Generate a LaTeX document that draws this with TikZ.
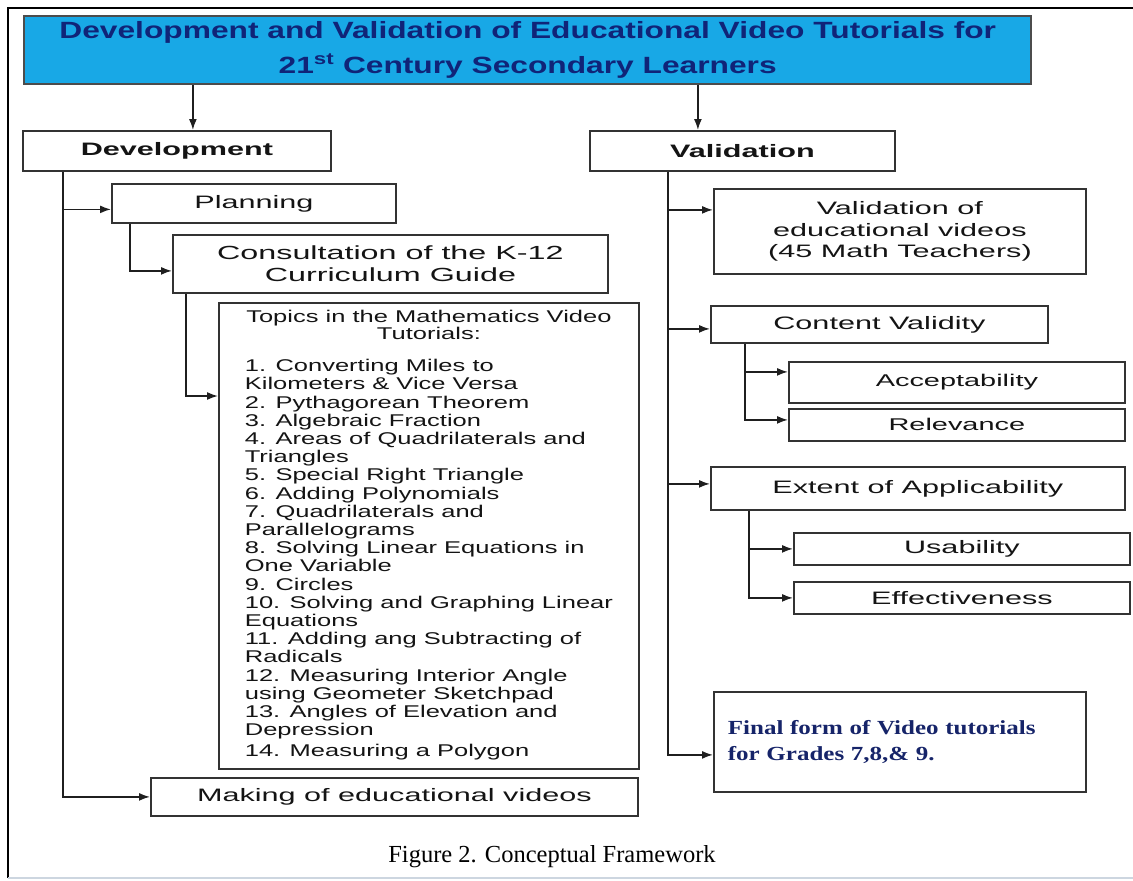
\documentclass[tikz,border=0pt]{standalone}
\usepackage{fontspec}
\setmainfont{Liberation Serif}
\newfontfamily\boxfont[FakeStretch=1.7]{Liberation Sans}
\newfontfamily\topicfont[FakeStretch=1.5]{Liberation Sans}
\newfontfamily\titlefont[FakeStretch=1.35]{Liberation Sans}
\newfontfamily\finalfont[FakeStretch=1.25]{Liberation Serif}
\usetikzlibrary{arrows.meta,positioning,calc}
\definecolor{titlecyan}{RGB}{24,168,230}
\definecolor{titlenavy}{RGB}{16,36,120}
\definecolor{finalnavy}{RGB}{22,36,105}
\definecolor{framegrey}{RGB}{205,214,224}

\begin{document}
\begin{tikzpicture}[x=1pt,y=-1pt,
    box/.style={draw=black!80, line width=1.8pt, anchor=north west, inner sep=0pt,
        align=center, text=black!92, font=\boxfont\fontsize{18}{21.5}\selectfont},
    arr/.style={line width=1.6pt, black!88, -{Latex[length=11pt,width=8pt]}}]
    \useasboundingbox (0,0) rectangle (1133,881);

    % outer frame
    \draw[line width=1.6pt] (1133,8) -- (8,8) -- (8,878);
    \draw[line width=1.6pt, framegrey] (8,878) -- (1133,878);

    % title
    \node[box, fill=titlecyan, draw=black!70, line width=2.4pt, minimum width=1007, minimum height=68,
        text=titlenavy, font=\titlefont\bfseries\fontsize{23.5}{35}\selectfont] (title) at (23,15)
        {Development and Validation of Educational Video Tutorials for\\21\textsuperscript{st} Century Secondary Learners};

    % development branch
    \node[box, font=\boxfont\bfseries\fontsize{18}{21.5}\selectfont, minimum width=308, minimum height=40] (dev) at (22,130) {Development};
    \node[box, minimum width=284, minimum height=39] (plan) at (111,183) {Planning};
    \node[box, font=\boxfont\fontsize{19}{22}\selectfont, minimum width=435, minimum height=58] (cons) at (172,234)
        {Consultation of the K-12\\Curriculum Guide};
    \node[box, minimum width=420, minimum height=466, font=\topicfont\fontsize{17}{18.2}\selectfont] (topics) at (218,302)
        {\begin{tabular}{@{}l@{}}
        \multicolumn{1}{@{}c@{}}{Topics in the Mathematics Video}\\[-1pt]
        \multicolumn{1}{@{}c@{}}{Tutorials:}\\[14pt]
        1. Converting Miles to\\
        Kilometers \& Vice Versa\\
        2. Pythagorean Theorem\\
        3. Algebraic Fraction\\
        4. Areas of Quadrilaterals and\\
        Triangles\\
        5. Special Right Triangle\\
        6. Adding Polynomials\\
        7. Quadrilaterals and\\
        Parallelograms\\
        8. Solving Linear Equations in\\
        One Variable\\
        9. Circles\\
        10. Solving and Graphing Linear\\
        Equations\\
        11. Adding ang Subtracting of\\
        Radicals\\
        12. Measuring Interior Angle\\
        using Geometer Sketchpad\\
        13. Angles of Elevation and\\
        Depression\\[3pt]
        14. Measuring a Polygon
        \end{tabular}};
    \node[box, minimum width=487, minimum height=38] (make) at (150,777) {Making of educational videos};

    % validation branch
    \node[box, font=\boxfont\bfseries\fontsize{18}{21.5}\selectfont, minimum width=305, minimum height=40] (val) at (589,130) {Validation};
    \node[box, minimum width=372, minimum height=85] (valvid) at (713,188)
        {Validation of\\educational videos\\(45 Math Teachers)};
    \node[box, minimum width=337, minimum height=37] (content) at (710,305) {Content Validity};
    \node[box, font=\boxfont\fontsize{17}{21}\selectfont, minimum width=336, minimum height=41] (accept) at (788,361) {Acceptability};
    \node[box, font=\boxfont\fontsize{17}{21}\selectfont, minimum width=336, minimum height=32] (relev) at (788,408) {Relevance};
    \node[box, minimum width=414, minimum height=43] (extent) at (710,466) {Extent of Applicability};
    \node[box, minimum width=336, minimum height=32] (usab) at (793,532) {Usability};
    \node[box, minimum width=336, minimum height=32] (effect) at (793,581) {Effectiveness};
    \node[box, minimum width=372, minimum height=100, inner xsep=14pt, text width=344, align=left,
        text=finalnavy, font=\finalfont\bfseries\fontsize{20}{26}\selectfont] (final) at (713,691)
        {Final form of Video tutorials\\for Grades 7,8,\& 9.};

    % caption
    \node[anchor=base, font=\fontsize{24.5}{29}\selectfont] (caption) at (552,862) {Figure 2. Conceptual Framework};

    % title to both branches
    \draw[arr] ([xshift=16pt]dev.north |- title.south) -- ([xshift=16pt]dev.north);
    \draw[arr] ([xshift=-44.5pt]val.north |- title.south) -- ([xshift=-44.5pt]val.north);

    % development connectors
    \coordinate (dtrunk) at ([xshift=41pt]dev.south west);
    \draw[arr] (dtrunk) |- (make.west);
    \draw[arr] ([yshift=-6pt]plan.west -| dtrunk) -- ([yshift=-6pt]plan.west);
    \draw[arr] ([xshift=19pt]plan.south west) |- ([yshift=-7pt]cons.west);
    \draw[arr] ([xshift=14pt]cons.south west) |- ([yshift=-94pt]topics.north west);

    % validation connectors
    \coordinate (vtrunk) at ([xshift=79pt]val.south west);
    \draw[arr] (vtrunk) |- ([yshift=-13pt]final.west);
    \draw[arr] ([yshift=21.5pt]valvid.west -| vtrunk) -- ([yshift=21.5pt]valvid.west);
    \draw[arr] ([yshift=-4.5pt]content.west -| vtrunk) -- ([yshift=-4.5pt]content.west);
    \draw[arr] ([yshift=4.5pt]extent.west -| vtrunk) -- ([yshift=4.5pt]extent.west);
    \draw[arr] ([xshift=35pt]content.south west) |- ([yshift=10.5pt]accept.west);
    \draw[arr] ([xshift=35pt]content.south west) |- ([yshift=5pt]relev.west);
    \draw[arr] ([xshift=39pt]extent.south west) |- (usab.west);
    \draw[arr] ([xshift=39pt]extent.south west) |- (effect.west);
\end{tikzpicture}
\end{document}
